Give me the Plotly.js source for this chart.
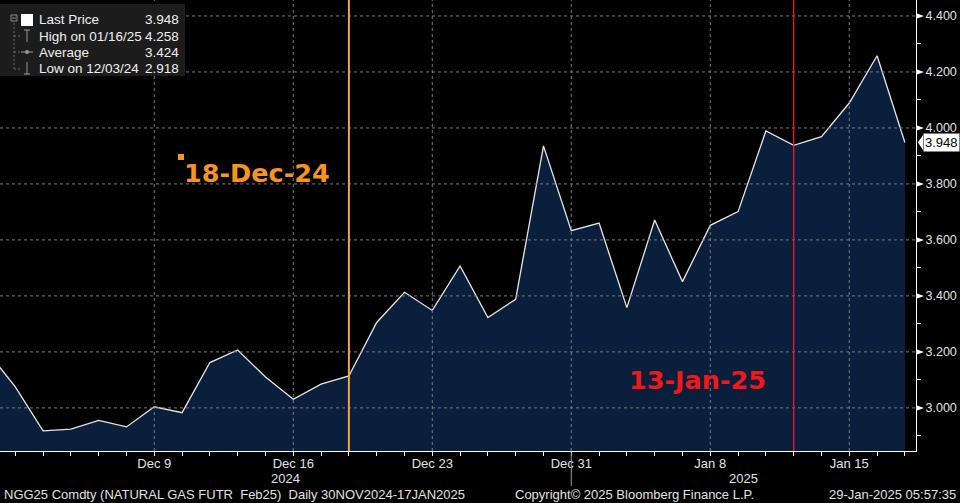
<!DOCTYPE html>
<html>
<head>
<meta charset="utf-8">
<script src="https://cdn.plot.ly/plotly-3.0.1.min.js"></script>
<style>
html,body{margin:0;padding:0;background:#000;}
#chart{width:960px;height:503px;}
</style>
</head>
<body>
<div id="chart"></div>
<script>
// ---- Data (NGG25 Comdty, daily close) ----
const dates = ['2024-11-29','2024-12-02','2024-12-03','2024-12-04','2024-12-05','2024-12-06',
  '2024-12-09','2024-12-10','2024-12-11','2024-12-12','2024-12-13',
  '2024-12-16','2024-12-17','2024-12-18','2024-12-19','2024-12-20',
  '2024-12-23','2024-12-24','2024-12-26','2024-12-27','2024-12-30','2024-12-31',
  '2025-01-02','2025-01-03','2025-01-06','2025-01-07','2025-01-08','2025-01-09','2025-01-10',
  '2025-01-13','2025-01-14','2025-01-15','2025-01-16','2025-01-17'];
const prices = [3.200, 3.075, 2.918, 2.924, 2.955, 2.932,
  3.004, 2.983, 3.162, 3.207, 3.110,
  3.031, 3.085, 3.114, 3.305, 3.413,
  3.348, 3.507, 3.323, 3.388, 3.936, 3.633,
  3.660, 3.358, 3.671, 3.451, 3.652, 3.701, 3.989,
  3.938, 3.969, 4.089, 4.258, 3.948];
const xLabelDates = ['2024-12-09','2024-12-16','2024-12-23','2024-12-31','2025-01-08','2025-01-15'];
const xLabelText  = ['Dec 9','Dec 16','Dec 23','Dec 31','Jan 8','Jan 15'];
const yTickVals = [3.0, 3.2, 3.4, 3.6, 3.8, 4.0, 4.2, 4.4];
const yTickText = ['3.000','3.200','3.400','3.600','3.800','4.000','4.200','4.400'];
const legendRows = [
  {label:'Last Price', value:'3.948'},
  {label:'High on 01/16/25', value:'4.258'},
  {label:'Average', value:'3.424'},
  {label:'Low on 12/03/24', value:'2.918'}
];
const eventDates = ['2024-12-18','2025-01-13'];
const eventLabels = ['18-Dec-24','13-Jan-25'];
const lastPrice = 3.948;

// trading-day index (first date sits one step left of the first labelled session)
const xIdx = dates.map((d,i)=>i-1);
const idxOf = d => dates.indexOf(d) - 1;

// layout helpers: pixel -> paper (plot area 916 x 451 at top-left)
const W = 916, H = 451;
const px = x => x / W;
const py = y => 1 - y / H;

const txt = '#e2e2e2';
const gridCol = '#7c7c7c';
const shapes = [];

// grid lines (drawn above the fill, like the reference)
yTickVals.forEach(v => shapes.push({type:'line', xref:'paper', yref:'y', x0:0, x1:1, y0:v, y1:v,
  line:{color:gridCol, width:1, dash:'3px,3px'}, layer:'above'}));
xLabelDates.forEach(d => shapes.push({type:'line', xref:'x', yref:'paper', x0:idxOf(d), x1:idxOf(d), y0:0, y1:1,
  line:{color:gridCol, width:1, dash:'3px,3px'}, layer:'above'}));

// year separator below axis
shapes.push({type:'line', xref:'x', yref:'paper', x0:idxOf('2024-12-31'), x1:idxOf('2024-12-31'),
  y0:py(486), y1:py(452), line:{color:'#9a9a9a', width:1}, layer:'above'});

// event lines
shapes.push({type:'line', xref:'x', yref:'paper', x0:idxOf(eventDates[0]), x1:idxOf(eventDates[0]), y0:0, y1:1,
  line:{color:'#f4a640', width:2}, layer:'above'});
shapes.push({type:'line', xref:'x', yref:'paper', x0:idxOf(eventDates[1]), x1:idxOf(eventDates[1]), y0:0, y1:1,
  line:{color:'#ee1c2e', width:1.3}, layer:'above'});

// orange square marker by label
shapes.push({type:'rect', xref:'paper', yref:'paper', x0:px(178), x1:px(184), y0:py(160), y1:py(154),
  fillcolor:'#f7941d', line:{width:0}, layer:'above'});

// legend box
shapes.push({type:'rect', xref:'paper', yref:'paper', x0:px(0), x1:px(185), y0:py(76), y1:py(4),
  fillcolor:'#1c1c1c', line:{width:0}, layer:'above'});
// legend tree
shapes.push({type:'rect', xref:'paper', yref:'paper', x0:px(11), x1:px(17), y0:py(21), y1:py(15),
  fillcolor:'rgba(0,0,0,0)', line:{color:'#8a8a8a', width:1}, layer:'above'});
shapes.push({type:'line', xref:'paper', yref:'paper', x0:px(12), x1:px(16), y0:py(18), y1:py(18),
  line:{color:'#8a8a8a', width:1}, layer:'above'});
shapes.push({type:'line', xref:'paper', yref:'paper', x0:px(14), x1:px(14), y0:py(69), y1:py(22),
  line:{color:'#6a6a6a', width:1, dash:'2px,2px'}, layer:'above'});
[36,52,69].forEach(y => shapes.push({type:'line', xref:'paper', yref:'paper', x0:px(14), x1:px(20), y0:py(y), y1:py(y),
  line:{color:'#6a6a6a', width:1, dash:'2px,2px'}, layer:'above'}));
// last price swatch
shapes.push({type:'rect', xref:'paper', yref:'paper', x0:px(21), x1:px(33), y0:py(26), y1:py(14),
  fillcolor:'#ffffff', line:{width:0}, layer:'above'});
// high icon
shapes.push({type:'line', xref:'paper', yref:'paper', x0:px(27), x1:px(27), y0:py(42), y1:py(30),
  line:{color:'#9a9a9a', width:1}, layer:'above'});
shapes.push({type:'line', xref:'paper', yref:'paper', x0:px(24), x1:px(30), y0:py(30), y1:py(30),
  line:{color:'#9a9a9a', width:1}, layer:'above'});
// average icon
shapes.push({type:'line', xref:'paper', yref:'paper', x0:px(21), x1:px(33), y0:py(52), y1:py(52),
  line:{color:'#9a9a9a', width:1}, layer:'above'});
shapes.push({type:'circle', xref:'paper', yref:'paper', x0:px(25), x1:px(29), y0:py(54), y1:py(50),
  fillcolor:'#9a9a9a', line:{width:0}, layer:'above'});
// low icon
shapes.push({type:'line', xref:'paper', yref:'paper', x0:px(27), x1:px(27), y0:py(74), y1:py(62),
  line:{color:'#9a9a9a', width:1}, layer:'above'});
shapes.push({type:'line', xref:'paper', yref:'paper', x0:px(24), x1:px(30), y0:py(74), y1:py(74),
  line:{color:'#9a9a9a', width:1}, layer:'above'});

// y tick triangles
yTickVals.forEach(v => shapes.push({type:'path', xref:'paper', xsizemode:'pixel', xanchor:1,
  yref:'y', ysizemode:'pixel', yanchor:v, path:'M1,2.5 L8,0 L1,-2.5 Z',
  fillcolor:'#ffffff', line:{width:0}, layer:'above'}));
// last price tag pointer
shapes.push({type:'path', xref:'paper', xsizemode:'pixel', xanchor:1,
  yref:'y', ysizemode:'pixel', yanchor:lastPrice, path:'M2,0 L7,7.5 L7,-7.5 Z',
  fillcolor:'#ffffff', line:{width:0}, layer:'above'});

const F = 'Liberation Sans, Arial, sans-serif';
const annotations = [];
legendRows.forEach((r,i) => {
  const y = 20 + i*16.2;
  annotations.push({xref:'paper', yref:'paper', x:px(37), y:py(y), xanchor:'left', yanchor:'middle',
    text:r.label, showarrow:false, font:{family:F, size:13.5, color:'#f0f0f0'}});
  annotations.push({xref:'paper', yref:'paper', x:px(181), y:py(y), xanchor:'right', yanchor:'middle',
    text:r.value, showarrow:false, font:{family:F, size:13.5, color:'#f0f0f0'}});
});
annotations.push({xref:'paper', yref:'paper', x:px(182), y:py(173), xanchor:'left', yanchor:'middle',
  text:eventLabels[0], showarrow:false, font:{family:'DejaVu Sans', size:25.5, weight:700, color:'#f7941d'}});
annotations.push({xref:'paper', yref:'paper', x:px(627), y:py(380), xanchor:'left', yanchor:'middle',
  text:eventLabels[1], showarrow:false, font:{family:'DejaVu Sans', size:25.5, weight:700, color:'#f01818'}});
// year labels
annotations.push({xref:'paper', yref:'paper', x:px(285), y:py(478), xanchor:'center', yanchor:'middle',
  text:'2024', showarrow:false, font:{family:F, size:13, color:txt}});
annotations.push({xref:'paper', yref:'paper', x:px(743), y:py(478), xanchor:'center', yanchor:'middle',
  text:'2025', showarrow:false, font:{family:F, size:13, color:txt}});
// footer
annotations.push({xref:'paper', yref:'paper', x:px(2), y:py(494), xanchor:'left', yanchor:'middle',
  text:'NGG25 Comdty (NATURAL GAS FUTR\u00a0 Feb25)\u00a0 Daily 30NOV2024-17JAN2025', showarrow:false,
  font:{family:F, size:13, color:txt}});
annotations.push({xref:'paper', yref:'paper', x:px(513), y:py(494), xanchor:'left', yanchor:'middle',
  text:'Copyright\u00a9 2025 Bloomberg Finance L.P.', showarrow:false, font:{family:F, size:13, color:txt}});
annotations.push({xref:'paper', yref:'paper', x:px(958), y:py(494), xanchor:'right', yanchor:'middle',
  text:'29-Jan-2025 05:57:35', showarrow:false, font:{family:F, size:13, color:txt}});
// last price tag
annotations.push({xref:'paper', yref:'y', x:1, y:lastPrice, xanchor:'left', yanchor:'middle', xshift:7,
  text:lastPrice.toFixed(3), showarrow:false, bgcolor:'#ffffff', borderpad:1,
  font:{family:F, size:13, color:'#000000'}});

const tickVals = xIdx.slice(1);
const tickText = tickVals.map(i => {
  const k = xLabelDates.indexOf(dates[i+1]);
  return k >= 0 ? xLabelText[k] : '';
});

const trace = {
  type:'scatter', mode:'lines', x:xIdx, y:prices,
  line:{color:'#e6e6e6', width:1.3}, fill:'tozeroy', fillcolor:'#0a1f3c',
  hoverinfo:'skip'
};

const layout = {
  width:960, height:503,
  margin:{l:0, r:44, t:0, b:52},
  paper_bgcolor:'#000000', plot_bgcolor:'#000000',
  showlegend:false,
  xaxis:{range:[-0.55, 32.40], tickmode:'array', tickvals:tickVals, ticktext:tickText,
    ticks:'outside', ticklen:4, tickcolor:'#ffffff', showgrid:false, zeroline:false,
    showline:true, linecolor:'#ffffff', linewidth:1, ticklabelstandoff:-4,
    tickfont:{family:F, size:13, color:txt}, fixedrange:true},
  yaxis:{side:'right', range:[2.846, 4.457], tickmode:'array', tickvals:yTickVals, ticktext:yTickText,
    ticks:'outside', ticklen:6, tickcolor:'rgba(0,0,0,0)', showgrid:false, zeroline:false,
    showline:true, linecolor:'#ffffff', linewidth:1,
    minor:{ticks:'outside', ticklen:4, tickcolor:'#ffffff', dtick:0.1, tick0:0, showgrid:false},
    tickfont:{family:F, size:12.5, color:txt}, fixedrange:true},
  shapes:shapes, annotations:annotations
};

Plotly.newPlot('chart', [trace], layout, {staticPlot:true, displayModeBar:false});
</script>
</body>
</html>
